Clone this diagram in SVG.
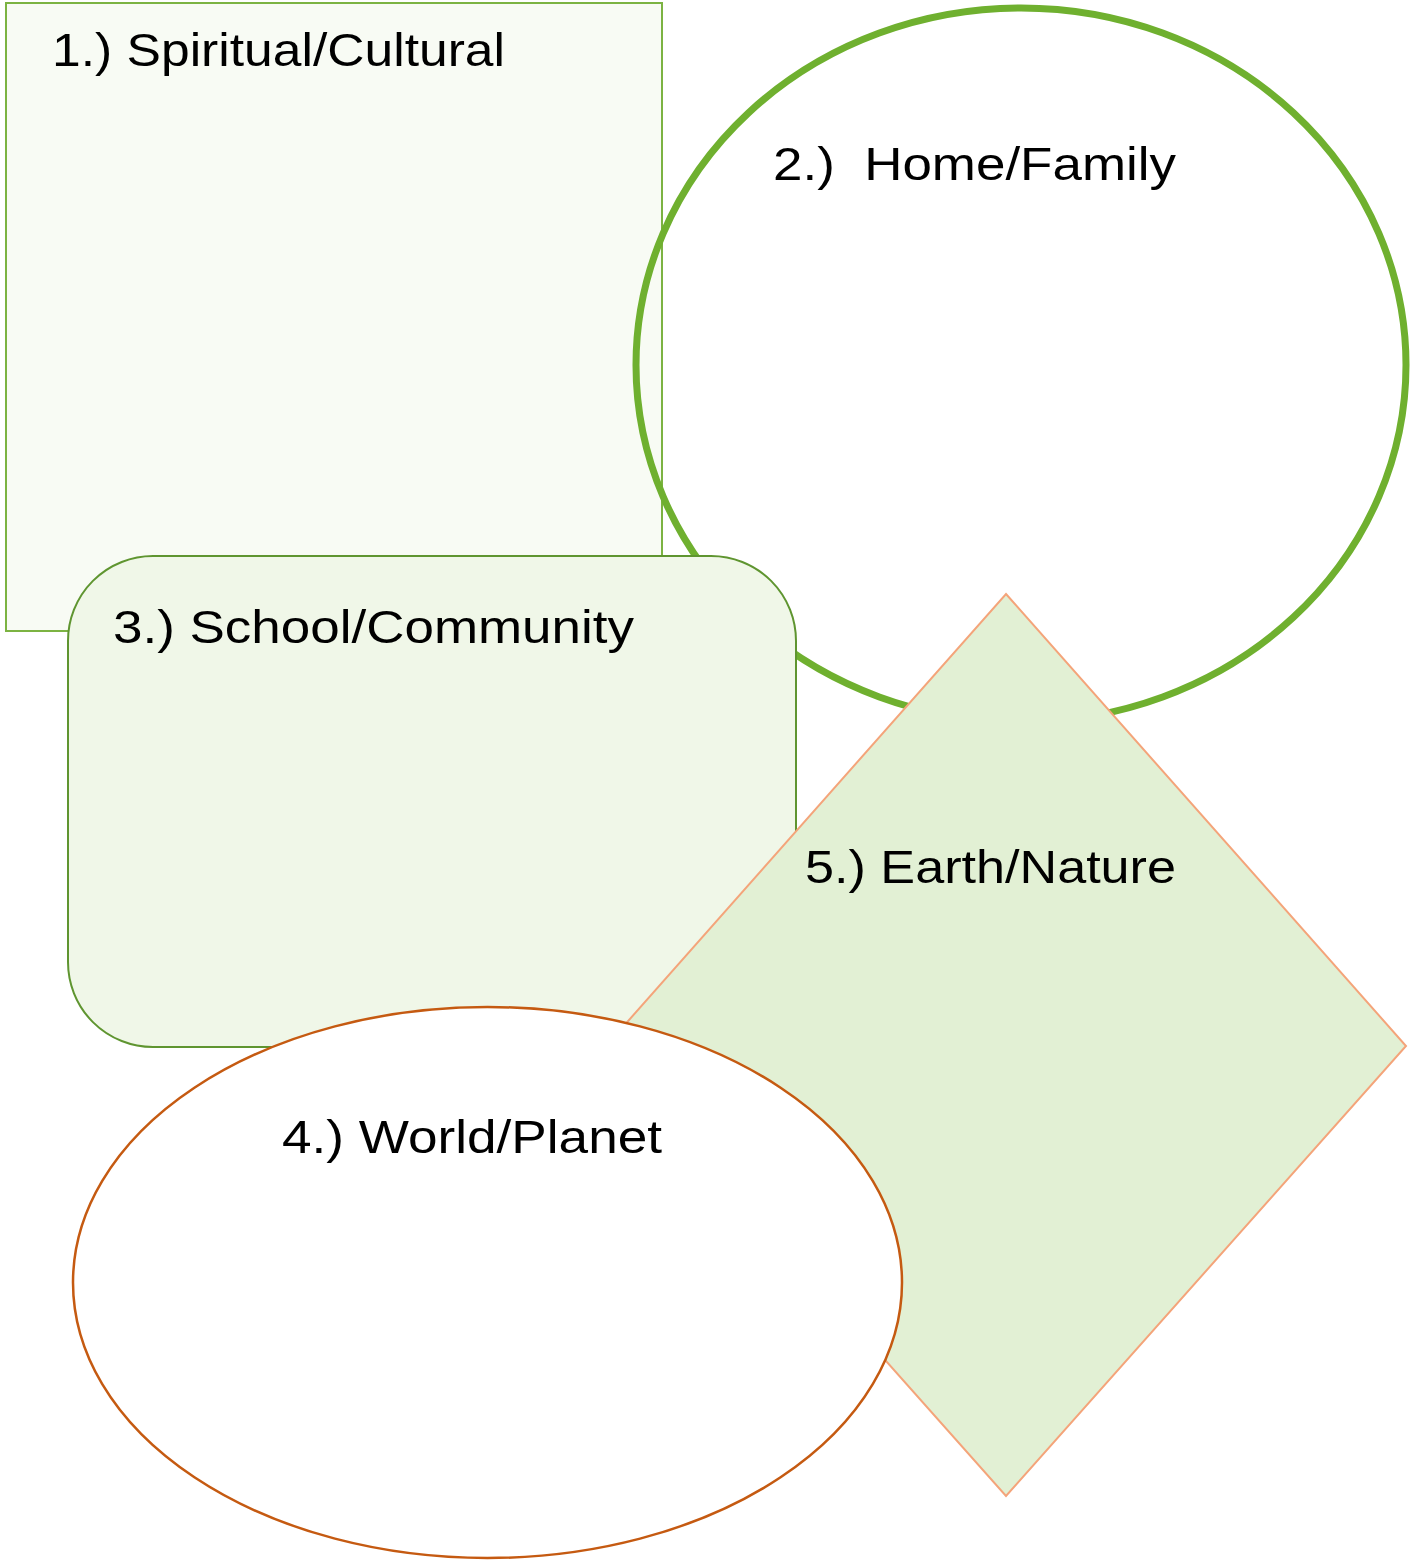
<svg xmlns="http://www.w3.org/2000/svg" width="1410" height="1564" viewBox="0 0 1410 1564">
<style>
.lbl{font-family:"Liberation Sans","DejaVu Sans",sans-serif;font-size:46px;fill:#000}
</style>
<rect x="0" y="0" width="1410" height="1564" fill="#ffffff"/>
<g id="node1">
<rect x="6" y="3" width="656" height="628" fill="#f8fbf4" stroke="#7cb342" stroke-width="2"/>
<text class="lbl" x="52" y="66" textLength="453" lengthAdjust="spacingAndGlyphs">1.) Spiritual/Cultural</text>
</g>
<g id="node2">
<ellipse cx="1021" cy="365" rx="385" ry="357" fill="none" stroke="#6fb02f" stroke-width="7"/>
<text class="lbl" x="773" y="180" textLength="403" lengthAdjust="spacingAndGlyphs" xml:space="preserve">2.)  Home/Family</text>
</g>
<g id="node3">
<rect x="68" y="556" width="728" height="491" rx="85" ry="85" fill="#f0f7e8" stroke="#5f9530" stroke-width="2"/>
<text class="lbl" x="113" y="643" textLength="521" lengthAdjust="spacingAndGlyphs">3.) School/Community</text>
</g>
<g id="node5">
<polygon points="1006,594 1406,1046 1006,1496 606,1046" fill="#e2f0d4" stroke="#f4a47a" stroke-width="2"/>
<text class="lbl" x="805" y="883" textLength="371" lengthAdjust="spacingAndGlyphs">5.) Earth/Nature</text>
</g>
<g id="node4">
<ellipse cx="487.5" cy="1282.5" rx="414.5" ry="275.5" fill="#ffffff" stroke="#c55a11" stroke-width="2.5"/>
<text class="lbl" x="282" y="1153" textLength="380" lengthAdjust="spacingAndGlyphs">4.) World/Planet</text>
</g>
<g id="connectors"></g>
</svg>
